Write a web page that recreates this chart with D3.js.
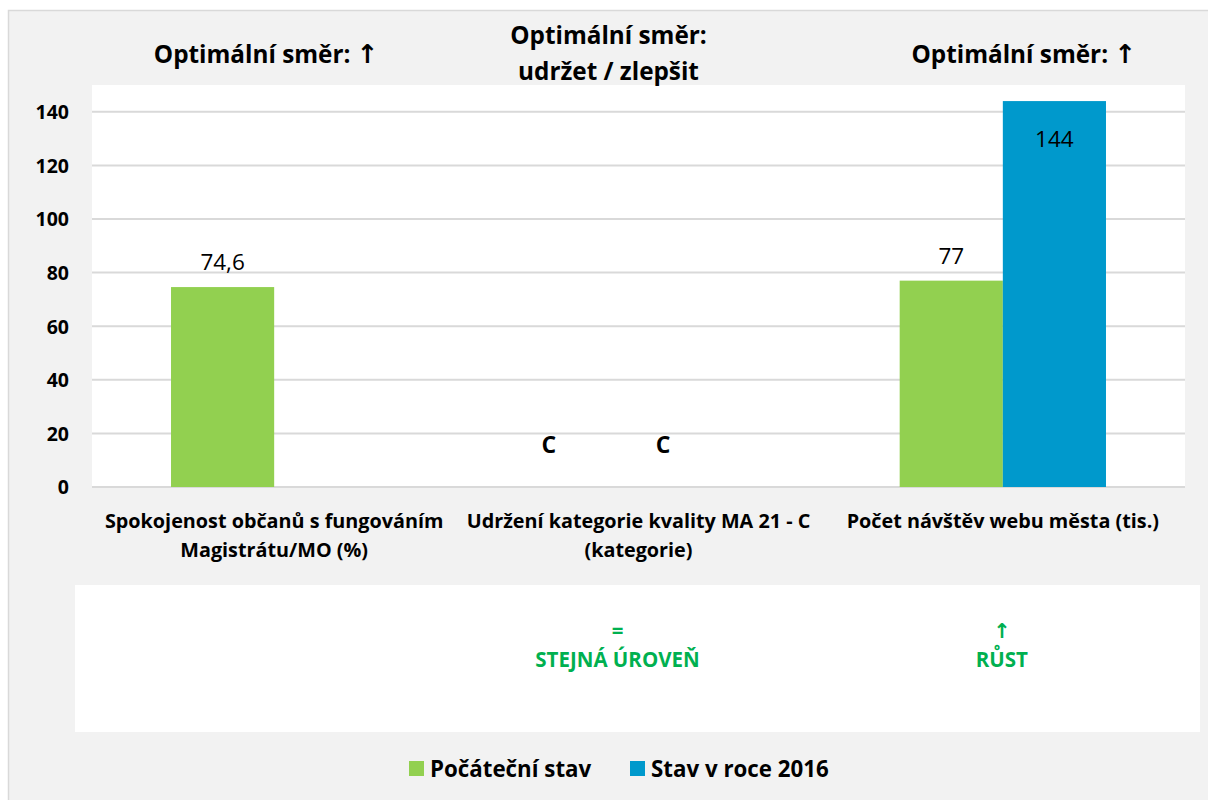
<!DOCTYPE html>
<html lang="cs">
<head>
<meta charset="UTF-8">
<title>Optimální směr</title>
<style>
  body { margin: 0; background: #fff; }
  text { font-family: "Open Sans", sans-serif; }
  .arrow { font-family: "DejaVu Sans", sans-serif; }
</style>
</head>
<body>
<script src="https://d3js.org/d3.v7.min.js"></script>
<div id="chart"></div>
<script>
// data
var categories = ["Spokojenost občanů s fungováním Magistrátu/MO (%)",
                  "Udržení kategorie kvality MA 21 - C (kategorie)",
                  "Počet návštěv webu města (tis.)"];
var categoryLines = [["Spokojenost občanů s fungováním", "Magistrátu/MO (%)"],
                     ["Udržení kategorie kvality MA 21 - C", "(kategorie)"],
                     ["Počet návštěv webu města (tis.)"]];
var series = ["Počáteční stav", "Stav v roce 2016"];
var startValues = [74.6, null, 77];
var values2016 = [null, null, 144];
var startLabels = ["74,6", "C", "77"];
var labels2016 = ["", "C", "144"];
var titles = [["Optimální směr: ↑"], ["Optimální směr:", "udržet / zlepšit"], ["Optimální směr: ↑"]];
var trendSymbols = ["", "=", "↑"];
var trendTexts = ["", "STEJNÁ ÚROVEŇ", "RŮST"];
var yTicks = [0, 20, 40, 60, 80, 100, 120, 140];
var colors = ["#92d050", "#0099cc"];

var W = 1208, H = 800;
var plot = { left: 92, right: 1185, top: 85, bottom: 487 };

var svg = d3.select("#chart").append("svg")
    .attr("width", W).attr("height", H);

// outer panel
svg.append("rect")
    .attr("x", 8.5).attr("y", 10.5)
    .attr("width", W).attr("height", H)
    .attr("fill", "#f2f2f2").attr("stroke", "#d9d9d9").attr("stroke-width", 1.5);

// plot area
svg.append("rect")
    .attr("x", plot.left).attr("y", plot.top)
    .attr("width", plot.right - plot.left).attr("height", plot.bottom - plot.top)
    .attr("fill", "#fff");

var x = d3.scaleBand().domain(categories).range([plot.left, plot.right]).paddingInner(0).paddingOuter(0);
var x1 = d3.scaleBand().domain(series).range([0, x.bandwidth()]).paddingOuter(0.766);
var y = d3.scaleLinear().domain([0, 150]).range([plot.bottom, plot.top]);

// gridlines
svg.append("g").selectAll("line").data(yTicks).enter().append("line")
    .attr("x1", plot.left).attr("x2", plot.right)
    .attr("y1", function(d) { return y(d); }).attr("y2", function(d) { return y(d); })
    .attr("stroke", "#d9d9d9").attr("stroke-width", 2);

// y axis labels
var yAxis = d3.axisLeft(y).tickValues(yTicks).tickSize(0).tickPadding(0);
var gy = svg.append("g").attr("transform", "translate(69,0)").call(yAxis);
gy.select(".domain").remove();
gy.selectAll("text")
    .attr("font-size", 19.5).attr("font-weight", "bold").attr("fill", "#000")
    .attr("font-family", "'Open Sans', sans-serif").attr("dy", "0.35em");

// bars
var barData = [];
categories.forEach(function(c, i) {
    barData.push({ cat: c, s: series[0], v: startValues[i], label: startLabels[i], color: colors[0] });
    barData.push({ cat: c, s: series[1], v: values2016[i], label: labels2016[i], color: colors[1] });
});

svg.append("g").selectAll("rect").data(barData.filter(function(d) { return d.v != null; }))
    .enter().append("rect")
    .attr("x", function(d) { return x(d.cat) + x1(d.s); })
    .attr("width", x1.bandwidth())
    .attr("y", function(d) { return y(d.v); })
    .attr("height", function(d) { return y(0) - y(d.v); })
    .attr("fill", function(d) { return d.color; });

// value labels
svg.append("g").selectAll("text").data(barData.filter(function(d) { return d.v != null; }))
    .enter().append("text")
    .attr("x", function(d) { return x(d.cat) + x1(d.s) + x1.bandwidth() / 2; })
    .attr("y", function(d) { return d.v > 120 ? y(d.v) + 46 : y(d.v) - 17; })
    .attr("text-anchor", "middle")
    .attr("font-size", 22.5).attr("fill", "#000")
    .text(function(d) { return d.label; });

// category C labels (no bar value)
svg.append("g").selectAll("text").data(barData.filter(function(d) { return d.v == null && d.label; }))
    .enter().append("text")
    .attr("x", function(d) { return x(d.cat) + x1(d.s) + x1.bandwidth() / 2 + (d.s === series[0] ? -38 : -27); })
    .attr("y", y(16) + 9)
    .attr("text-anchor", "middle")
    .attr("font-size", 23).attr("font-weight", "bold").attr("fill", "#000")
    .text(function(d) { return d.label; });

// category axis labels
var xl = svg.append("g").selectAll("text").data(categories).enter().append("text")
    .attr("text-anchor", "middle")
    .attr("font-size", 19.8).attr("font-weight", "bold").attr("fill", "#000");
xl.each(function(c, i) {
    var t = d3.select(this);
    categoryLines[i].forEach(function(line, j) {
        t.append("tspan").attr("x", x(c) + x.bandwidth() / 2).attr("y", 528 + j * 29).text(line);
    });
});

// titles above
var titleDx = [-8, -30, 21];
svg.append("g").selectAll("text").data(categories).enter().append("text")
    .attr("text-anchor", "middle")
    .attr("font-size", 24.3).attr("font-weight", "bold").attr("fill", "#000")
    .each(function(c, i) {
        var t = d3.select(this);
        var lines = titles[i];
        var y0 = lines.length === 1 ? 63 : 44;
        lines.forEach(function(line, j) {
            var cx = x(c) + x.bandwidth() / 2 + titleDx[i];
            if (line.indexOf("↑") >= 0) {
                // arrow glyph from a font that has it
                var row = t.append("tspan").attr("x", cx).attr("y", y0 + j * 36);
                row.text(line.replace("↑", ""));
                t.append("tspan").attr("class", "arrow").attr("font-size", 26).text("↑");
            } else {
                t.append("tspan").attr("x", cx).attr("y", y0 + j * 36).text(line);
            }
        });
    });

// trend box
svg.append("rect")
    .attr("x", 75).attr("y", 585).attr("width", 1125).attr("height", 147)
    .attr("fill", "#fff");

var trendDx = [0, -21, -1];
svg.append("g").selectAll("text").data(categories).enter().append("text")
    .attr("text-anchor", "middle")
    .attr("font-size", 20.5).attr("font-weight", "bold").attr("fill", "#00b050")
    .each(function(c, i) {
        var t = d3.select(this);
        var cx = x(c) + x.bandwidth() / 2 + trendDx[i];
        t.append("tspan").attr("x", cx).attr("y", 638)
            .attr("class", trendSymbols[i] === "↑" ? "arrow" : null).text(trendSymbols[i]);
        t.append("tspan").attr("x", cx).attr("y", 667).text(trendTexts[i]);
    });

// legend
var legendX = [409, 630];
var lg = svg.append("g").selectAll("g").data(series).enter().append("g")
    .attr("transform", function(d, i) { return "translate(" + legendX[i] + ",761)"; });
lg.append("rect").attr("width", 15).attr("height", 15)
    .attr("fill", function(d, i) { return colors[i]; });
lg.append("text").attr("x", 21).attr("y", 16)
    .attr("font-size", 22.3).attr("font-weight", "bold").attr("fill", "#000")
    .text(function(d) { return d; });
</script>
</body>
</html>
